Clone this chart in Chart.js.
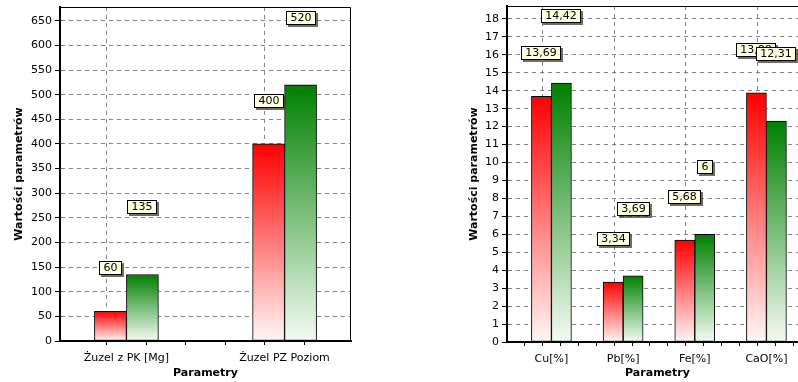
<!DOCTYPE html>
<html><head><meta charset="utf-8">
<script src="https://cdn.jsdelivr.net/npm/chart.js@4.4.1/dist/chart.umd.min.js"></script>
<style>
html,body{margin:0;padding:0;background:#fff;overflow:hidden;}
#wrap{position:relative;width:798px;height:382px;overflow:hidden;background:#fff;}
canvas{position:absolute;top:0;}
#c1{left:0px;}
#c2{left:462px;}
</style></head><body>
<div id="wrap"><canvas id="c1" width="360" height="382"></canvas><canvas id="c2" width="350" height="382"></canvas></div>
<script>
// ---- data ----
const leftCategories = ['Żuzel z PK [Mg]', 'Żuzel PZ Poziom'];
const leftRed = [60, 400];
const leftGreen = [135, 520];
const leftYStep = 50;
const leftYMax = 678;

const rightCategories = ['Cu[%]', 'Pb[%]', 'Fe[%]', 'CaO[%]'];
const rightRed = [13.69, 3.34, 5.68, 13.88];
const rightGreen = [14.42, 3.69, 6, 12.31];
const rightYStep = 1;
const rightYMax = 18.72;

const xTitle = 'Parametry';
const yTitle = 'Wartości parametrów';

// ---- styles ----
const FAMILY = 'DejaVu Sans';
Chart.defaults.font.family = FAMILY;
Chart.defaults.font.size = 11;
Chart.defaults.color = '#000';
const GRID = '#858585';
const DASH = [4, 4];

function isMult(v, step) {
  const r = v / step;
  return Math.abs(r - Math.round(r)) < 1e-6;
}
function fmt(v) { return String(v).replace('.', ','); }

function gradientFill(topColor, bottomColor) {
  return function (c) {
    if (c.type !== 'data') return topColor;
    const chart = c.chart;
    const ys = chart.scales.y;
    if (!ys || !chart.chartArea) return topColor;
    const top = ys.getPixelForValue(c.parsed.y);
    const base = ys.getPixelForValue(0);
    if (!isFinite(top) || !isFinite(base) || top === base) return topColor;
    const g = chart.ctx.createLinearGradient(0, top, 0, base);
    g.addColorStop(0, topColor);
    g.addColorStop(1, bottomColor);
    return g;
  };
}

const framePlugin = {
  id: 'frame',
  beforeDatasetsDraw(chart) {
    const {ctx, chartArea: a} = chart;
    ctx.save();
    ctx.strokeStyle = '#000';
    ctx.lineWidth = 1;
    ctx.beginPath();
    ctx.moveTo(a.left, a.top + 0.5);
    ctx.lineTo(a.right - 0.5, a.top + 0.5);
    ctx.lineTo(a.right - 0.5, a.bottom);
    ctx.stroke();
    ctx.restore();
  }
};

const labelPlugin = {
  id: 'valueBoxes',
  afterDatasetsDraw(chart, args, opts) {
    const ctx = chart.ctx;
    ctx.save();
    ctx.font = '11px "' + FAMILY + '"';
    ctx.textAlign = 'center';
    ctx.textBaseline = 'middle';
    chart.data.datasets.forEach((ds, di) => {
      const meta = chart.getDatasetMeta(di);
      const off = opts.offsets[di];
      meta.data.forEach((el, i) => {
        const txt = fmt(ds.data[i].y);
        const w = Math.round(ctx.measureText(txt).width + 9);
        const h = 14;
        const x0 = Math.round(el.x - w / 2);
        const y0 = Math.round(el.y - off - h / 2);
        ctx.fillStyle = 'rgba(60,60,60,0.75)';
        ctx.fillRect(x0 + 2, y0 + 2, w, h);
        ctx.fillStyle = '#ffffe1';
        ctx.fillRect(x0, y0, w, h);
        ctx.strokeStyle = '#000';
        ctx.lineWidth = 1;
        ctx.strokeRect(x0 + 0.5, y0 + 0.5, w - 1, h - 1);
        ctx.fillStyle = '#000';
        ctx.fillText(txt, x0 + w / 2, y0 + h / 2 + 0.5);
      });
    });
    ctx.restore();
  }
};

function makeChart(id, cats, red, green, c) {
  const toPts = arr => arr.map((v, i) => ({x: i, y: v}));
  return new Chart(document.getElementById(id), {
    type: 'bar',
    data: {
      datasets: [
        {label: 'A', data: toPts(red), backgroundColor: gradientFill('#ff0000', '#fff6f6'),
         borderColor: '#000', borderWidth: 1, borderSkipped: false, barThickness: c.barThickness},
        {label: 'B', data: toPts(green), backgroundColor: gradientFill('#008000', '#f4fbf4'),
         borderColor: '#000', borderWidth: 1, borderSkipped: false, barThickness: c.barThickness}
      ]
    },
    options: {
      responsive: false,
      animation: false,
      devicePixelRatio: 1,
      layout: {padding: c.padding},
      plugins: {
        legend: {display: false},
        tooltip: {enabled: false},
        valueBoxes: {offsets: [43, 67]}
      },
      scales: {
        x: {
          type: 'linear', min: c.xMin, max: c.xMax, offset: false,
          afterBuildTicks: s => { s.ticks = s.ticks.filter(t => isMult(t.value, 0.25)); },
          afterFit: s => { s.height = c.xHeight; s.paddingLeft = 0; s.paddingRight = 0; },
          ticks: {
            stepSize: 0.25, autoSkip: false, maxRotation: 0, minRotation: 0, padding: 7, color: '#000',
            font: {size: 11},
            callback: v => {
              const i = Math.round(v);
              return (Math.abs(v - i) < 1e-6 && cats[i] !== undefined) ? cats[i] : '';
            }
          },
          grid: {
            color: ctx => (ctx.tick && isMult(ctx.tick.value, 1)) ? GRID : 'rgba(0,0,0,0)',
            tickColor: '#000', tickLength: 4, lineWidth: 1
          },
          border: {color: '#000', width: 2, dash: DASH},
          title: {display: true, text: xTitle, color: '#000',
                  font: {size: 11, weight: 'bold'}, padding: {top: 0, bottom: 2}}
        },
        y: {
          type: 'linear', min: 0, max: c.yMax,
          afterBuildTicks: s => { s.ticks = s.ticks.filter(t => isMult(t.value, c.yStep)); },
          afterFit: s => { s.width = c.yWidth; s.paddingTop = 0; s.paddingBottom = 0; },
          ticks: {stepSize: c.yStep, color: '#000', padding: 3, font: {size: 11}},
          grid: {
            color: ctx => (ctx.tick && ctx.tick.value === 0) ? 'rgba(0,0,0,0)' : GRID,
            tickColor: '#000', tickLength: 5, lineWidth: 1
          },
          border: {color: '#000', width: 2, dash: DASH},
          title: {display: true, text: yTitle, color: '#000',
                  font: {size: 11, weight: 'bold'}, padding: {top: c.yTitlePad, bottom: 0}}
        }
      }
    },
    plugins: [framePlugin, labelPlugin]
  });
}

makeChart('c1', leftCategories, leftRed, leftGreen, {
  xMin: -0.42, xMax: 1.42, yMax: leftYMax, yStep: leftYStep, barThickness: 32,
  yWidth: 60, xHeight: 41, padding: {top: 7, right: 9, bottom: 0, left: 0}, yTitlePad: 13
});
makeChart('c2', rightCategories, rightRed, rightGreen, {
  xMin: -0.62, xMax: 3.58, yMax: rightYMax, yStep: rightYStep, barThickness: 20,
  yWidth: 45, xHeight: 40, padding: {top: 6, right: 4, bottom: 0, left: 0}, yTitlePad: 6
});
</script>
</body></html>
